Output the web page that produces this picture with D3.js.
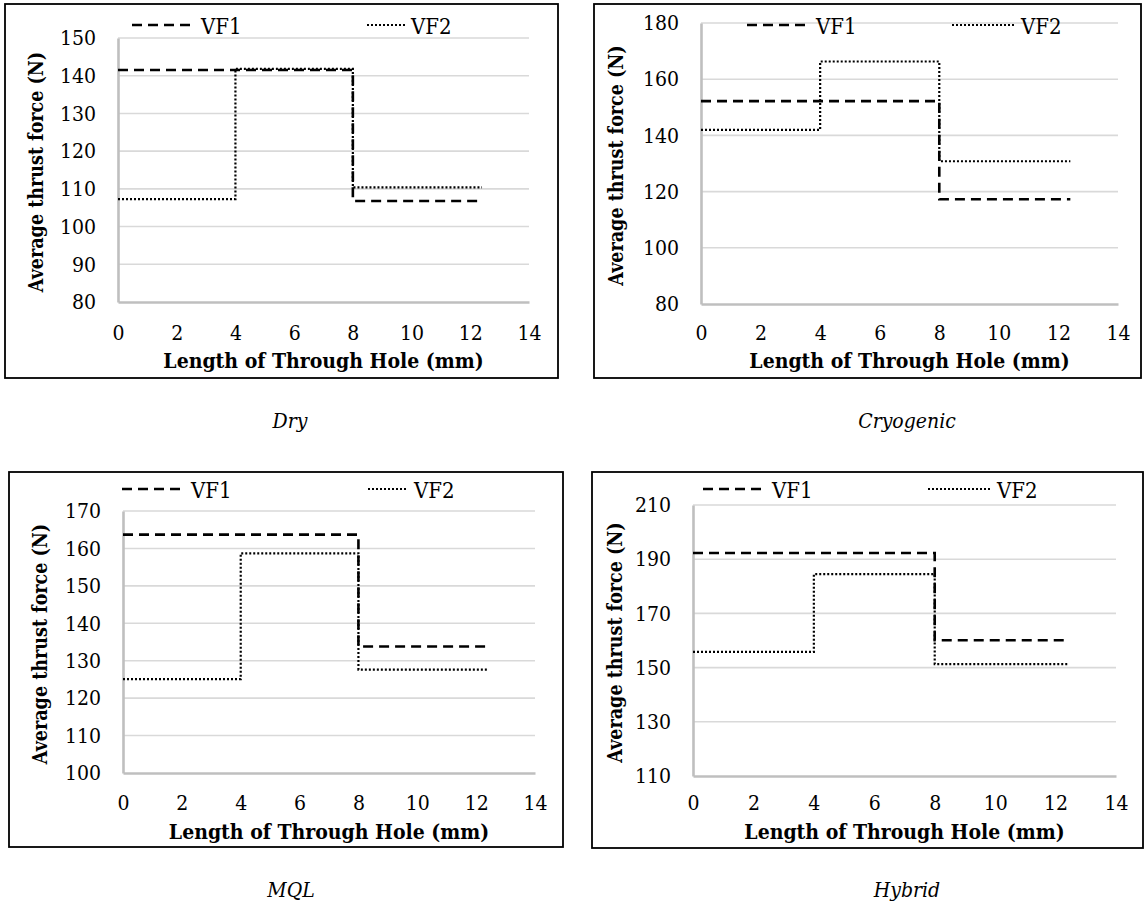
<!DOCTYPE html>
<html>
<head>
<meta charset="utf-8">
<script src="https://cdn.jsdelivr.net/npm/d3@7"></script>
<style>
  body { margin: 0; background: #fff; }
  text { font-family: "DejaVu Serif Condensed", "DejaVu Serif", serif; fill: #000; }
</style>
</head>
<body>
<svg id="chart" width="1144" height="905"></svg>
<script>
// ---------- data ----------
const conditions = ["Dry", "Cryogenic", "MQL", "Hybrid"];
const seriesNames = ["VF1", "VF2"];
const holeBreaks = [0, 4, 8, 12.4];          // step boundaries along the hole (mm)
const xTicks = [0, 2, 4, 6, 8, 10, 12, 14];

const dryVF1 = [141.5, 141.5, 106.8];
const dryVF2 = [107.3, 141.8, 110.4];
const cryoVF1 = [152.2, 152.2, 117.3];
const cryoVF2 = [142.0, 166.3, 130.8];
const mqlVF1 = [163.7, 163.7, 133.8];
const mqlVF2 = [125.1, 158.7, 127.6];
const hybridVF1 = [192.3, 192.3, 160.1];
const hybridVF2 = [155.8, 184.5, 151.3];

const dryTicks = [80, 90, 100, 110, 120, 130, 140, 150];
const cryoTicks = [80, 100, 120, 140, 160, 180];
const mqlTicks = [100, 110, 120, 130, 140, 150, 160, 170];
const hybridTicks = [110, 130, 150, 170, 190, 210];

const xTitle = "Length of Through Hole (mm)";
const yTitle = "Average thrust force (N)";

// ---------- layout ----------
const panels = [
  { name: conditions[0], vf1: dryVF1, vf2: dryVF2, ticks: dryTicks,
    border: [5, 4, 558, 378], plot: [118, 38, 529, 302],
    legY: 25, leg1X: 132, leg2X: 367, leg2L: 38, titleX: 36, xLabY: 333, xTitleY: 360, capX: 290, capY: 428 },
  { name: conditions[1], vf1: cryoVF1, vf2: cryoVF2, ticks: cryoTicks,
    border: [594, 4, 1141, 378], plot: [701, 23, 1118, 304],
    legY: 25, leg1X: 747, leg2X: 952, leg2L: 63, titleX: 616, xLabY: 333, xTitleY: 360, capX: 907, capY: 428 },
  { name: conditions[2], vf1: mqlVF1, vf2: mqlVF2, ticks: mqlTicks,
    border: [9, 472, 563, 847], plot: [123, 511, 535, 773],
    legY: 489, leg1X: 122, leg2X: 368, leg2L: 40, titleX: 40, xLabY: 803, xTitleY: 831, capX: 291, capY: 897 },
  { name: conditions[3], vf1: hybridVF1, vf2: hybridVF2, ticks: hybridTicks,
    border: [592, 472, 1143, 848], plot: [693, 505, 1116, 776],
    legY: 489, leg1X: 703, leg2X: 928, leg2L: 63, titleX: 615, xLabY: 803, xTitleY: 831, capX: 907, capY: 897 }
];

const styles = {
  VF1: { dash: "10,6", width: 2.6 },
  VF2: { dash: "2,2", width: 2.2 }
};

const svg = d3.select("#chart");
svg.append("rect").attr("width", 1144).attr("height", 905).attr("fill", "#fff");

panels.forEach(p => {
  const g = svg.append("g");
  const [bx0, by0, bx1, by1] = p.border;
  const [px0, py0, px1, py1] = p.plot;

  g.append("rect")
    .attr("x", bx0).attr("y", by0)
    .attr("width", bx1 - bx0).attr("height", by1 - by0)
    .attr("fill", "none").attr("stroke", "#000").attr("stroke-width", 1.8);

  const x = d3.scaleLinear().domain([0, 14]).range([px0, px1]);
  const y = d3.scaleLinear().domain(d3.extent(p.ticks)).range([py1, py0]);

  // gridlines
  g.append("g").selectAll("line")
    .data(p.ticks.slice(1))
    .join("line")
    .attr("x1", px0).attr("x2", px1)
    .attr("y1", d => y(d)).attr("y2", d => y(d))
    .attr("stroke", "#d9d9d9").attr("stroke-width", 1.6);

  // y axis
  const yAxis = g.append("g")
    .attr("transform", `translate(${px0},0)`)
    .call(d3.axisLeft(y).tickValues(p.ticks).tickSize(0).tickPadding(22));
  yAxis.select(".domain").attr("stroke", "#bfbfbf").attr("stroke-width", 2.6);
  yAxis.selectAll("text").attr("font-size", 21).style("font-family", null);

  // x axis
  const xAxis = g.append("g")
    .attr("transform", `translate(0,${py1})`)
    .call(d3.axisBottom(x).tickValues(xTicks).tickSize(0).tickPadding(0));
  xAxis.select(".domain").attr("stroke", "#bfbfbf").attr("stroke-width", 2.6);
  xAxis.selectAll("text")
    .attr("font-size", 21).style("font-family", null)
    .attr("dy", null)
    .attr("y", p.xLabY - py1)
    .attr("dominant-baseline", "central");

  // axis titles
  g.append("text")
    .attr("x", (px0 + px1) / 2).attr("y", p.xTitleY)
    .attr("text-anchor", "middle").attr("dominant-baseline", "central")
    .attr("font-size", 21).attr("font-weight", "bold")
    .text(xTitle);
  g.append("text")
    .attr("transform", `translate(${p.titleX},${(py0 + py1) / 2 + 2}) rotate(-90)`)
    .attr("text-anchor", "middle").attr("dominant-baseline", "central")
    .attr("font-size", 19.5).attr("font-weight", "bold")
    .text(yTitle);

  // step lines
  const line = d3.line()
    .x(d => x(d[0])).y(d => y(d[1]))
    .curve(d3.curveStepAfter);
  seriesNames.forEach(sn => {
    const vals = sn === "VF1" ? p.vf1 : p.vf2;
    const pts = holeBreaks.map((b, i) => [b, vals[Math.min(i, vals.length - 1)]]);
    g.append("path")
      .attr("d", line(pts))
      .attr("fill", "none").attr("stroke", "#000")
      .attr("stroke-width", styles[sn].width)
      .attr("stroke-dasharray", styles[sn].dash);
  });

  // legend
  [[seriesNames[0], p.leg1X, 63], [seriesNames[1], p.leg2X, p.leg2L]].forEach(([sn, lx, len]) => {
    g.append("line")
      .attr("x1", lx).attr("x2", lx + len)
      .attr("y1", p.legY).attr("y2", p.legY)
      .attr("stroke", "#000").attr("stroke-width", styles[sn].width)
      .attr("stroke-dasharray", styles[sn].dash);
    g.append("text")
      .attr("x", lx + len + 6).attr("y", p.legY + 1)
      .attr("dominant-baseline", "central")
      .attr("font-size", 22)
      .text(sn);
  });

  // caption
  g.append("text")
    .attr("x", p.capX).attr("y", p.capY)
    .attr("text-anchor", "middle")
    .attr("font-size", 21).attr("font-style", "italic")
    .text(p.name);
});
</script>
</body>
</html>
